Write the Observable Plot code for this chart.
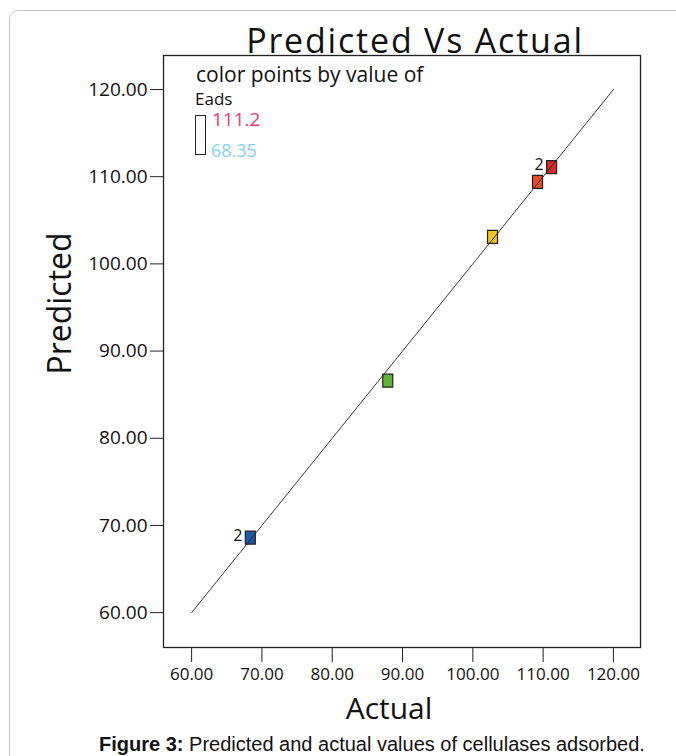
<!DOCTYPE html>
<html>
<head>
<meta charset="utf-8">
<script src="https://cdn.jsdelivr.net/npm/d3@7"></script>
<script src="https://cdn.jsdelivr.net/npm/@observablehq/plot@0.6"></script>
<style>
  html, body { margin: 0; padding: 0; background: #fff; }
  #wrap { position: relative; width: 676px; height: 756px; overflow: hidden; font-family: "Open Sans", sans-serif; }
  #border { position: absolute; left: 9px; top: 10px; width: 700px; height: 800px; border: 1.5px solid #c8c8c8; border-top-left-radius: 9px; box-sizing: border-box; }
  #chart { position: absolute; left: 0; top: 0; }
  .leg { position: absolute; white-space: nowrap; line-height: 1; }
  #caption { position: absolute; left: 0; width: 744px; top: 733px; text-align: center; font-family: "Liberation Sans", Arial, sans-serif; font-size: 20px; color: #111; white-space: nowrap; }
</style>
</head>
<body>
<div id="wrap">
  <div id="border"></div>
  <div id="chart"></div>
  <div class="leg" style="left:196px; top:64px; font-size:21px; color:#111;">color points by value of</div>
  <div class="leg" style="left:195px; top:90px; font-size:17px; color:#111;">Eads</div>
  <div class="leg" style="left:195px; top:115px; width:9px; height:38px; border:1.3px solid #222;"></div>
  <div class="leg" style="left:212px; top:110px; font-size:19px; color:#ee3a6e;">111.2</div>
  <div class="leg" style="left:211px; top:141px; font-size:18px; color:#7fd2f4;">68.35</div>
  <div id="caption"><b>Figure 3:</b> Predicted and actual values of cellulases adsorbed.</div>
</div>
<script>
// Data
const actual    = [68.35, 87.9, 102.8, 109.2, 111.2];
const predicted = [68.6, 86.6, 103.1, 109.4, 111.1];
const runs      = [2, 1, 1, 1, 2];
const colors    = ["#2058ab", "#5db535", "#f6c31d", "#eb4a26", "#db2a2c"];
const ticks     = [60, 70, 80, 90, 100, 110, 120];
const diagonal  = [60, 120];

const points = actual.map((a, i) => ({actual: a, predicted: predicted[i], runs: runs[i], color: colors[i]}));
const diag = diagonal.map(v => ({x: v, y: v}));

const rectSymbol = { draw(context) { context.rect(-5, -6.5, 10, 13); } };

const W = 676, H = 740;
const chart = Plot.plot({
  width: W,
  height: H,
  marginLeft: 163,
  marginRight: 36,
  marginTop: 55,
  marginBottom: 93,
  style: { fontFamily: "Open Sans, sans-serif", color: "#111", background: "transparent", overflow: "visible" },
  x: { domain: [56, 123.85] },
  y: { domain: [56, 123.9] },
  color: { type: "identity" },
  marks: [
    Plot.frame({ stroke: "#222", strokeWidth: 1.3 }),
    Plot.axisY({ ticks: ticks, tickFormat: d => d.toFixed(2), tickSize: 13, tickPadding: 3, fontSize: 19, label: null, stroke: "#222" }),
    Plot.axisX({ ticks: ticks, tickFormat: d => d.toFixed(2), tickSize: 15, tickPadding: 5, fontSize: 17, label: null, stroke: "#222" }),
    Plot.dot(points, { x: "actual", y: "predicted", symbol: rectSymbol, fill: "color", stroke: "#222", strokeWidth: 1.2, r: 6 }),
    Plot.line(diag, { x: "x", y: "y", stroke: "#222", strokeWidth: 0.9 }),
    Plot.text(points.filter(d => d.runs > 1), { x: "actual", y: "predicted", text: d => String(d.runs), textAnchor: "end", dx: -8, dy: -2, fontSize: 16, fill: "#111" }),
    Plot.text(["Predicted Vs Actual"], { frameAnchor: "top", lineAnchor: "bottom", dx: 13, dy: -3, fontSize: 34, fill: "#111" }),
    Plot.text(["Actual"], { frameAnchor: "bottom", lineAnchor: "bottom", dx: -13, dy: 71, fontSize: 30, fill: "#111" }),
    Plot.text(["Predicted"], { frameAnchor: "left", textAnchor: "middle", rotate: -90, dx: -103, dy: -48, fontSize: 32, fill: "#111" })
  ]
});
chart.querySelectorAll("text").forEach(t => { if (t.textContent === "Predicted Vs Actual") t.style.letterSpacing = "1.8px"; });
document.getElementById("chart").appendChild(chart);
</script>
</body>
</html>
